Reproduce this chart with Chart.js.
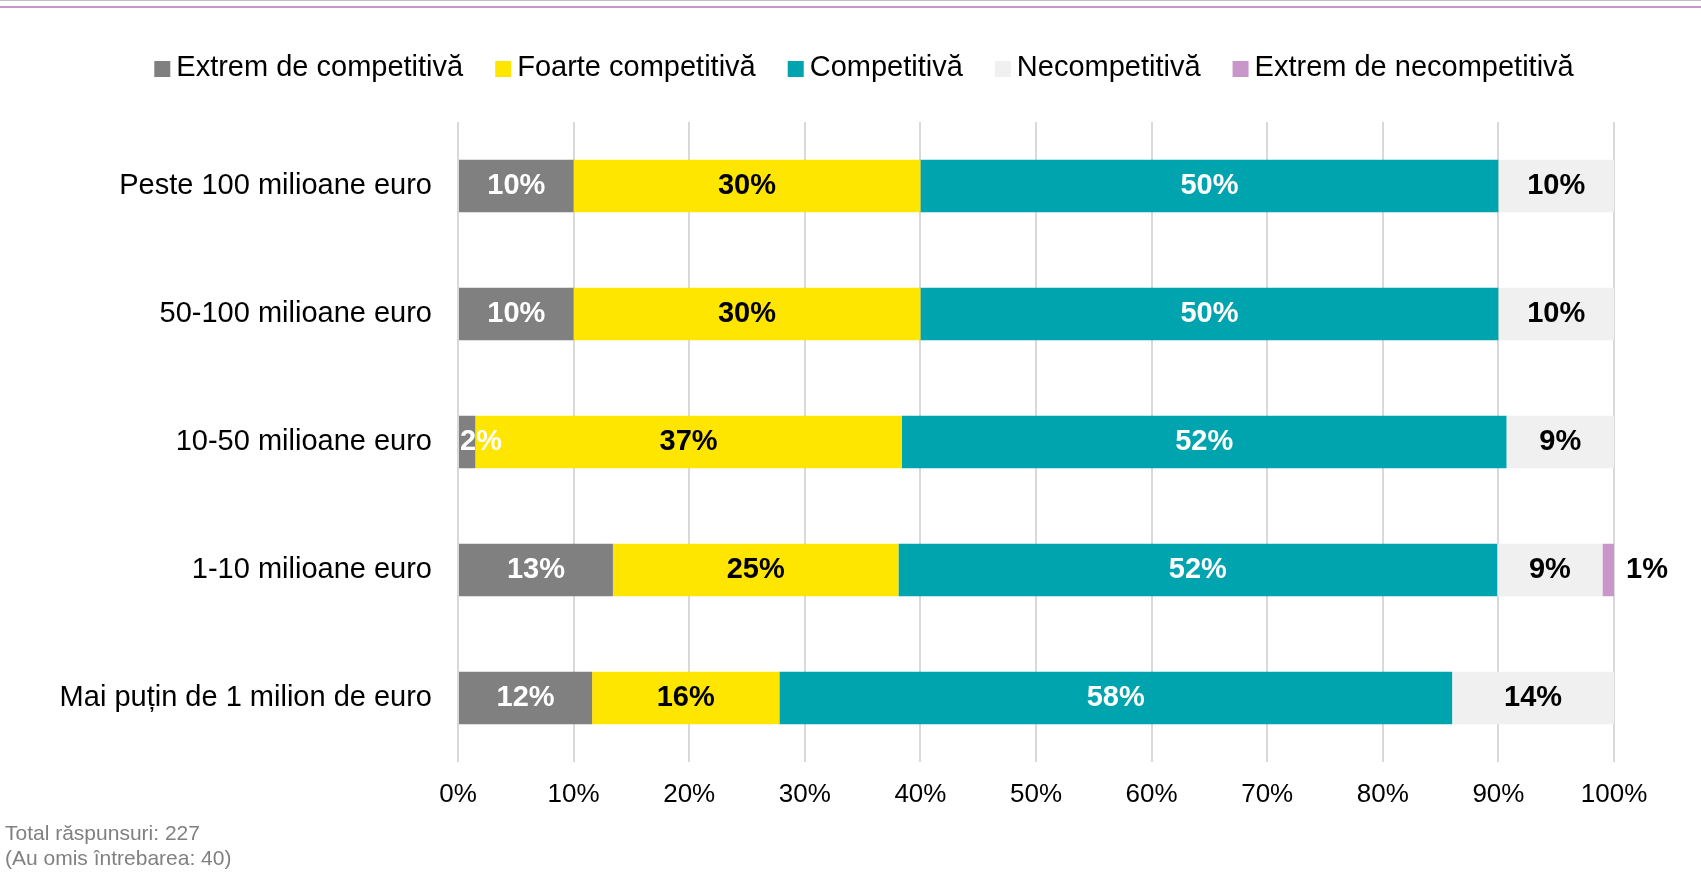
<!DOCTYPE html>
<html>
<head>
<meta charset="utf-8">
<script src="https://cdn.jsdelivr.net/npm/chart.js@4"></script>
<style>
  html, body { margin: 0; padding: 0; background: #ffffff; }
  body { width: 1701px; height: 877px; position: relative; overflow: hidden; font-family: "Liberation Sans", Arial, sans-serif; }
  #wrap { position: absolute; left: 0; top: 0; width: 1701px; height: 877px; }
  .line_gray { position: absolute; left: 0; top: 0; width: 1701px; height: 1px; background: #c0c0c0; }
  .line_purple { position: absolute; left: 0; top: 6px; width: 1701px; height: 2px; background: #c896c8; }
  .note { position: absolute; left: 5px; color: #808080; font-size: 21px; line-height: 25px; }
</style>
</head>
<body>
<div id="wrap"><canvas id="chart"></canvas></div>
<div class="line_gray"></div>
<div class="line_purple"></div>
<div class="note" style="top: 820px;">Total răspunsuri: 227<br>(Au omis întrebarea: 40)</div>
<script>
  const categories = ['Peste 100 milioane euro', '50-100 milioane euro', '10-50 milioane euro', '1-10 milioane euro', 'Mai puțin de 1 milion de euro'];
  const seriesNames = ['Extrem de competitivă', 'Foarte competitivă', 'Competitivă', 'Necompetitivă', 'Extrem de necompetitivă'];
  const extremCompetitiva = [10, 10, 1.5, 13.4, 11.6];
  const foarteCompetitiva = [30, 30, 36.9, 24.7, 16.2];
  const competitiva = [50, 50, 52.3, 51.8, 58.2];
  const necompetitiva = [10, 10, 9.3, 9.1, 14.0];
  const extremNecompetitiva = [0, 0, 0, 1.0, 0];
  const xTicks = [0, 10, 20, 30, 40, 50, 60, 70, 80, 90, 100];

  const colors = ['#808080', '#ffe600', '#00a4ae', '#f0f0f0', '#c896c8'];
  const labelColors = ['#ffffff', '#000000', '#ffffff', '#000000', '#000000'];
  const values = [extremCompetitiva, foarteCompetitiva, competitiva, necompetitiva, extremNecompetitiva];

  const FONT = '"Liberation Sans", Arial, sans-serif';

  const datasets = seriesNames.map(function (name, i) {
    return {
      label: name,
      data: values[i],
      backgroundColor: colors[i],
      borderWidth: 0,
      categoryPercentage: 1,
      barPercentage: 0.41
    };
  });

  // Draw the percentage labels on the bars
  const barLabels = {
    id: 'barLabels',
    afterDatasetsDraw(chart) {
      const ctx = chart.ctx;
      ctx.save();
      ctx.font = 'bold 29px ' + FONT;
      ctx.textBaseline = 'middle';
      chart.data.datasets.forEach(function (ds, i) {
        const meta = chart.getDatasetMeta(i);
        meta.data.forEach(function (bar, j) {
          const v = ds.data[j];
          if (!v) return;
          const text = Math.round(v) + '%';
          const left = Math.min(bar.x, bar.base);
          const right = Math.max(bar.x, bar.base);
          const w = ctx.measureText(text).width;
          ctx.fillStyle = labelColors[i];
          if (i === 4) {
            // small last segment: label sits outside, to the right
            ctx.textAlign = 'left';
            ctx.fillText(text, right + 12, bar.y);
          } else if (right - left < w) {
            ctx.textAlign = 'left';
            ctx.fillText(text, left + 1, bar.y);
          } else {
            ctx.textAlign = 'center';
            ctx.fillText(text, (left + right) / 2, bar.y);
          }
        });
      });
      ctx.restore();
    }
  };

  // Legend row above the plot, built from the datasets
  const topLegend = {
    id: 'topLegend',
    afterDraw(chart) {
      const ctx = chart.ctx;
      const box = 16, boxGap = 6, itemGap = 32;
      const centerX = 864, centerY = 68;
      ctx.save();
      ctx.font = '29px ' + FONT;
      ctx.textBaseline = 'middle';
      ctx.textAlign = 'left';
      const items = chart.data.datasets.map(ds => ({
        text: ds.label,
        color: ds.backgroundColor,
        w: ctx.measureText(ds.label).width
      }));
      let total = 0;
      items.forEach(function (it, i) {
        total += box + boxGap + it.w + (i ? itemGap : 0);
      });
      let x = centerX - total / 2;
      items.forEach(function (it) {
        ctx.fillStyle = it.color;
        ctx.fillRect(x, centerY - box / 2 + 1, box, box);
        ctx.fillStyle = '#000000';
        ctx.fillText(it.text, x + box + boxGap, centerY);
        x += box + boxGap + it.w + itemGap;
      });
      ctx.restore();
    }
  };

  Chart.defaults.font.family = FONT;
  Chart.defaults.color = '#000000';

  new Chart(document.getElementById('chart'), {
    type: 'bar',
    data: { labels: categories, datasets: datasets },
    plugins: [barLabels, topLegend],
    options: {
      indexAxis: 'y',
      responsive: true,
      maintainAspectRatio: false,
      animation: false,
      layout: { padding: { top: 122, right: 0, bottom: 0, left: 23 } },
      plugins: {
        legend: { display: false },
        tooltip: { enabled: false }
      },
      scales: {
        x: {
          stacked: true,
          min: 0,
          max: 100,
          afterBuildTicks(scale) {
            scale.ticks = xTicks.map(v => ({ value: v }));
          },
          afterFit(scale) {
            scale.height = 115;
          },
          ticks: {
            padding: 17,
            font: { size: 26 },
            color: '#000000',
            callback: v => v + '%'
          },
          grid: { color: '#d9d9d9', lineWidth: 2, drawTicks: false },
          border: { display: false }
        },
        y: {
          stacked: true,
          afterFit(scale) {
            scale.width = 435;
          },
          ticks: {
            padding: 26,
            font: { size: 29 },
            color: '#000000'
          },
          grid: { display: false, drawTicks: false },
          border: { display: false }
        },
        // empty axis on the right, only keeps space free next to the bars
        yRight: {
          type: 'category',
          labels: categories,
          position: 'right',
          afterFit(scale) {
            scale.width = 87;
          },
          ticks: { display: false },
          grid: { display: false, drawTicks: false },
          border: { display: false }
        }
      }
    }
  });
</script>
</body>
</html>
